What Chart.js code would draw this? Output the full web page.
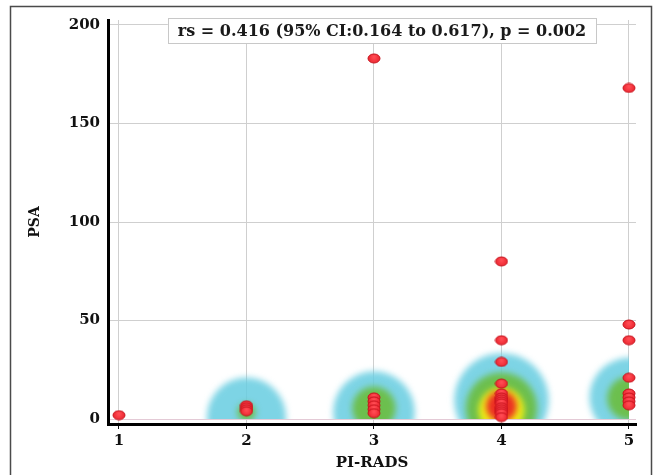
<!DOCTYPE html>
<html>
<head>
<meta charset="utf-8">
<title>PSA vs PI-RADS</title>
<script src="https://cdn.jsdelivr.net/npm/chart.js@4/dist/chart.umd.min.js"></script>
<style>
	html, body { margin: 0; padding: 0; background: #fff; }
	#wrap { position: relative; width: 661px; height: 475px; }
</style>
</head>
<body>
<div id="wrap"><canvas id="psaChart" width="661" height="475"></canvas></div>
<script>
/*global Chart*/
"use strict";

// individual patients
var pointPiRads = [1, 2, 2, 2, 2, 3, 3, 3, 3, 3, 3, 4, 4, 4, 4, 4, 4, 4, 4, 4, 4, 4, 4, 4, 4, 5, 5, 5, 5, 5, 5, 5, 5];
var pointPsa = [2, 7, 6, 5, 4, 183, 11, 9, 7, 5, 3, 80, 40, 29, 18, 13, 11, 10, 9, 8, 6, 5, 4, 3, 1, 168, 48, 40, 21, 13, 11, 9, 7];

// density contours per PI-RADS group (centre in PSA, spread in PI-RADS units, 0 = none)
var densityPiRads = [2, 3, 4, 5];
var cyanCenter = [1, 3.5, 9.5, 11];
var cyanSpread = [0.31, 0.32, 0.37, 0.31];
var greenCenter = [3.5, 5.5, 5.5, 10.5];
var greenSpread = [0.07, 0.17, 0.28, 0.17];
var yellowCenter = [0, 0, 4.5, 0];
var yellowSpread = [0, 0, 0.18, 0];
var redCenter = [0, 0, 6.5, 0];
var redSpread = [0, 0, 0.12, 0];

var xTicks = [1, 2, 3, 4, 5];
var yTicks = [0, 50, 100, 150, 200];
var statText = "rs = 0.416 (95% CI:0.164 to 0.617), p = 0.002";

var serif = "'DejaVu Serif', 'Liberation Serif', serif";

function densityData(center, spread) {
	var out = [];
	densityPiRads.forEach(function (x, i) {
		if (spread[i] > 0) {
			out.push({ x: x, y: center[i], s: spread[i] });
		}
	});
	return out;
}

function spreadRadius(ctx) {
	var xs = ctx.chart.scales.x;
	if (!ctx.raw || !xs) { return 0; }
	return ctx.raw.s * (xs.getPixelForValue(1) - xs.getPixelForValue(0));
}

function densitySet(label, center, spread, color, order) {
	return {
		label: label,
		data: densityData(center, spread),
		backgroundColor: color,
		borderWidth: 0,
		pointRadius: spreadRadius,
		pointHoverRadius: spreadRadius,
		blur: 3,
		order: order
	};
}

// red ellipse marker
function makeDot() {
	var c = document.createElement("canvas"), g, grad;
	c.width = 14;
	c.height = 11;
	g = c.getContext("2d");
	g.beginPath();
	g.ellipse(7, 5.5, 6, 4.5, 0, 0, 2 * Math.PI);
	grad = g.createRadialGradient(7, 4, 1, 7, 5.5, 6.5);
	grad.addColorStop(0, "#ff4a52");
	grad.addColorStop(1, "#e8202a");
	g.fillStyle = grad;
	g.fill();
	g.lineWidth = 1;
	g.strokeStyle = "#c4121c";
	g.stroke();
	return c;
}

// blur + clip the density blobs to x <= 5 and PSA >= 0
var densityPlugin = {
	id: "densityBlur",
	beforeDatasetDraw: function (chart, args) {
		var ds = chart.data.datasets[args.index], ctx = chart.ctx, area = chart.chartArea, right, bottom;
		if (!ds.blur) { return; }
		right = chart.scales.x.getPixelForValue(Math.max.apply(null, densityPiRads));
		bottom = chart.scales.y.getPixelForValue(0);
		ctx.save();
		ctx.beginPath();
		ctx.rect(area.left, area.top, right - area.left, bottom - area.top);
		ctx.clip();
		ctx.filter = "blur(" + ds.blur + "px)";
	},
	afterDatasetDraw: function (chart, args) {
		if (chart.data.datasets[args.index].blur) { chart.ctx.restore(); }
	}
};

// outer frame and the statistics box
var framePlugin = {
	id: "frameAndStats",
	beforeDraw: function (chart) {
		var ctx = chart.ctx;
		ctx.save();
		ctx.fillStyle = "#fff";
		ctx.fillRect(0, 0, chart.width, chart.height);
		ctx.strokeStyle = "#4a4a4a";
		ctx.lineWidth = 1.5;
		ctx.beginPath();
		ctx.moveTo(10.5, chart.height);
		ctx.lineTo(10.5, 6.5);
		ctx.lineTo(651.5, 6.5);
		ctx.lineTo(651.5, chart.height);
		ctx.stroke();
		ctx.restore();
	},
	afterDraw: function (chart) {
		var ctx = chart.ctx, area = chart.chartArea, cx, w, top = 18, h = 25;
		ctx.save();
		ctx.font = "bold 16px " + serif;
		w = ctx.measureText(statText).width + 20;
		cx = (area.left + area.right) / 2 + 10;
		ctx.fillStyle = "#fff";
		ctx.fillRect(cx - w / 2, top, w, h);
		ctx.strokeStyle = "#c8c8c8";
		ctx.lineWidth = 1;
		ctx.strokeRect(Math.round(cx - w / 2) + 0.5, top + 0.5, Math.round(w), h);
		ctx.fillStyle = "#1a1a1a";
		ctx.textAlign = "center";
		ctx.textBaseline = "middle";
		ctx.fillText(statText, cx, top + h / 2 + 1);
		ctx.restore();
	}
};

var chart = new Chart(document.getElementById("psaChart"), {
	type: "scatter",
	data: {
		datasets: [
			{
				label: "PSA",
				data: pointPiRads.map(function (x, i) { return { x: x, y: pointPsa[i] }; }),
				pointStyle: makeDot(),
				pointRadius: 6,
				order: 0
			},
			densitySet("red", redCenter, redSpread, "rgba(236,36,36,0.95)", 1),
			densitySet("yellow", yellowCenter, yellowSpread, "rgba(246,240,20,0.95)", 2),
			densitySet("green", greenCenter, greenSpread, "rgba(108,190,70,0.95)", 3),
			densitySet("cyan", cyanCenter, cyanSpread, "rgba(102,204,224,0.85)", 4)
		]
	},
	options: {
		responsive: false,
		animation: false,
		events: [],
		layout: { padding: { top: 20, right: 25, left: 0, bottom: 0 } },
		plugins: {
			legend: { display: false },
			tooltip: { enabled: false }
		},
		scales: {
			x: {
				type: "linear",
				min: 0.914,
				max: 5.055,
				afterFit: function (scale) { scale.height = 51; },
				afterBuildTicks: function (scale) {
					scale.ticks = xTicks.map(function (v) { return { value: v }; });
				},
				ticks: {
					padding: 3,
					color: "#111",
					font: { family: serif, size: 15, weight: "bold" }
				},
				grid: {
					color: "#cfcfcf",
					lineWidth: 1,
					tickColor: "#111",
					tickLength: 5
				},
				border: { display: true, color: "#000", width: 3 },
				title: {
					display: true,
					text: "PI-RADS",
					color: "#111",
					padding: { top: 0, bottom: 3 },
					font: { family: serif, size: 15, weight: "bold" }
				}
			},
			y: {
				min: -2.5,
				max: 202.5,
				afterFit: function (scale) { scale.width = 108; },
				afterBuildTicks: function (scale) {
					scale.ticks = yTicks.map(function (v) { return { value: v }; });
				},
				ticks: {
					padding: 8,
					color: "#111",
					font: { family: serif, size: 15, weight: "bold" }
				},
				grid: {
					color: function (ctx) { return ctx.tick && ctx.tick.value === 0 ? "#e4cad6" : "#cfcfcf"; },
					lineWidth: 1,
					drawTicks: false
				},
				border: { display: true, color: "#000", width: 3 },
				title: {
					display: true,
					text: "PSA",
					color: "#111",
					padding: { top: 27, bottom: 0 },
					font: { family: serif, size: 14, weight: "bold" }
				}
			}
		}
	},
	plugins: [densityPlugin, framePlugin]
});
</script>
</body>
</html>
